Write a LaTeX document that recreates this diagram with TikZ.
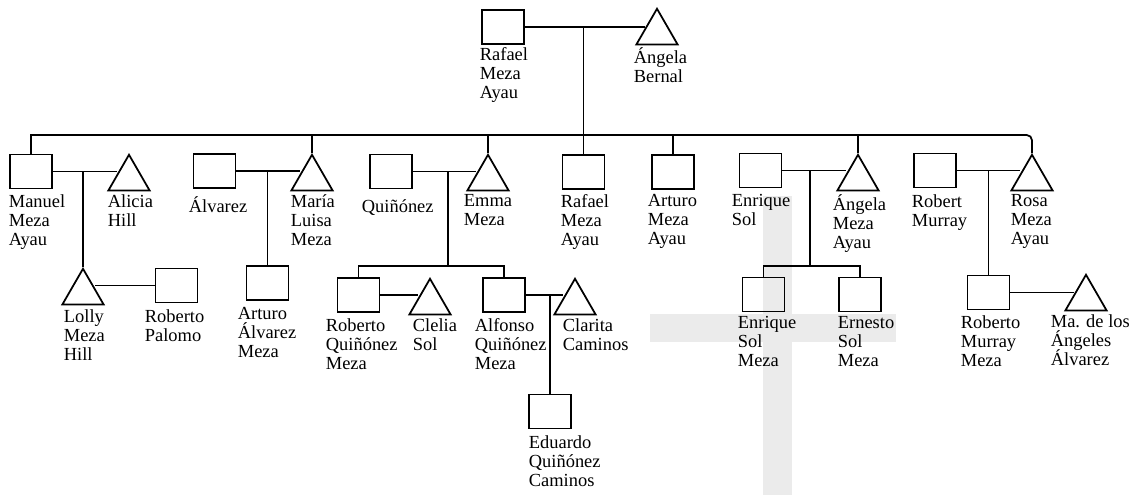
\documentclass[tikz,border=0pt]{standalone}
\usepackage{fontspec}
\setmainfont{Liberation Serif}
\usetikzlibrary{shapes.geometric}
\setlength{\lineskiplimit}{-10pt}
\tikzset{
  male/.style={draw, rectangle, minimum width=0.84cm, minimum height=0.68cm, inner sep=0pt},
  female/.style={draw, regular polygon, regular polygon sides=3, minimum size=0.95cm, inner sep=0pt, anchor=north},
  lbl/.style={anchor=north west, yshift=11.5pt, align=left, inner sep=0pt,
    font=\fontsize{10.5}{10.8}\selectfont, execute at begin node={\rule{0pt}{10pt}}},
}
\begin{document}
\begin{tikzpicture}[x=0.02cm, y=-0.02cm, line width=1pt]
      \useasboundingbox (0,0) rectangle (1144,495);
      \fill[black!8] (763,196) rectangle (792,495);
      \fill[black!8] (650,314) rectangle (896,342);
      \node[male] (rafael0) at (503,27) {};
      \node[female] (angela0) at (657,7) {};
      \node[male] (manuel) at (31,171.5) {};
      \node[female] (alicia) at (129,153) {};
      \node[male] (alvarez) at (214.5,171) {};
      \node[female] (maria) at (312,153) {};
      \node[male] (quinonez) at (391,171.5) {};
      \node[female] (emma) at (488,153) {};
      \node[male] (rafael1) at (583.5,172) {};
      \node[male] (arturo) at (673,172) {};
      \node[male] (enrique) at (760.5,170.5) {};
      \node[female] (angela1) at (858,153) {};
      \node[male] (murray) at (935,170.5) {};
      \node[female] (rosa) at (1032,153) {};
      \node[female] (lolly) at (83,267) {};
      \node[male] (palomo) at (176.5,285.5) {};
      \node[male] (arturoA) at (267.5,283) {};
      \node[male] (robQ) at (358.5,295) {};
      \node[female] (clelia) at (430,277) {};
      \node[male] (alfonso) at (504,295) {};
      \node[female] (clarita) at (575,277) {};
      \node[male] (eduardo) at (550,411.5) {};
      \node[male] (enriqueS) at (763.5,294.5) {};
      \node[male] (ernesto) at (860,294.5) {};
      \node[male] (robM) at (988.5,292.5) {};
      \node[female] (angeles) at (1086,273) {};
      \coordinate (sib) at (583.5,135);
      \coordinate (qbar) at (448,266);
      \coordinate (sbar) at (810,266);
      \begin{scope}
        \draw (rafael0.east) -- (rafael0.east -| angela0.155);
        \draw (rafael1.north |- rafael0.east) -- (rafael1.north);
        \draw (manuel.north) |- (sib);
        \draw[rounded corners=3pt] (sib) -| (rosa.north);
        \draw (maria.north) -- (maria.north |- sib);
        \draw (emma.north) -- (emma.north |- sib);
        \draw (arturo.north) -- (arturo.north |- sib);
        \draw (angela1.north) -- (angela1.north |- sib);
        \draw (manuel.east) -- (manuel.east -| alicia.155);
        \draw (lolly.north |- manuel.east) -- (lolly.north);
        \draw (palomo.west) -- (palomo.west -| lolly.25);
        \draw (alvarez.east) -- (alvarez.east -| maria.155);
        \draw (arturoA.north |- alvarez.east) -- (arturoA.north);
        \draw (quinonez.east) -- (quinonez.east -| emma.155);
        \draw (qbar |- quinonez.east) -- (qbar);
        \draw (robQ.north) |- (qbar) -| (alfonso.north);
        \draw (robQ.east) -- (robQ.east -| clelia.155);
        \draw (alfonso.east) -- (alfonso.east -| clarita.155);
        \draw (eduardo.north |- alfonso.east) -- (eduardo.north);
        \draw (enrique.east) -- (enrique.east -| angela1.155);
        \draw (sbar |- enrique.east) -- (sbar);
        \draw (enriqueS.north) |- (sbar) -| (ernesto.north);
        \draw (murray.east) -- (murray.east -| rosa.155);
        \draw (robM.north |- murray.east) -- (robM.north);
        \draw (robM.east) -- (robM.east -| angeles.155);
      \end{scope}
      \node[lbl] (t-rafael0) at (479,67) {Rafael\\Meza\\Ayau};
      \node[lbl] (t-angela0) at (633,67) {Ángela\\Bernal};
      \node[lbl] (t-manuel) at (8,214) {Manuel\\Meza\\Ayau};
      \node[lbl] (t-alicia) at (107,214) {Alicia\\Hill};
      \node[lbl] (t-alvarez) at (188,214) {Álvarez};
      \node[lbl] (t-maria) at (290,214) {María\\Luisa\\Meza};
      \node[lbl] (t-quinonez) at (361,214) {Quiñónez};
      \node[lbl] (t-emma) at (463,214) {Emma\\Meza};
      \node[lbl] (t-rafael1) at (560,214) {Rafael\\Meza\\Ayau};
      \node[lbl] (t-arturo) at (647,214) {Arturo\\Meza\\Ayau};
      \node[lbl] (t-enrique) at (731,214) {Enrique\\Sol};
      \node[lbl] (t-angela1) at (832,214) {Ángela\\Meza\\Ayau};
      \node[lbl] (t-murray) at (911,214) {Robert\\Murray};
      \node[lbl] (t-rosa) at (1010,214) {Rosa\\Meza\\Ayau};
      \node[lbl] (t-lolly) at (63,329) {Lolly\\Meza\\Hill};
      \node[lbl] (t-palomo) at (144,329) {Roberto\\Palomo};
      \node[lbl] (t-arturoA) at (237,327) {Arturo\\Álvarez\\Meza};
      \node[lbl] (t-robQ) at (325,338) {Roberto\\Quiñónez\\Meza};
      \node[lbl] (t-clelia) at (412,338) {Clelia\\Sol};
      \node[lbl] (t-alfonso) at (474,338) {Alfonso\\Quiñónez\\Meza};
      \node[lbl] (t-clarita) at (562,338) {Clarita\\Caminos};
      \node[lbl] (t-eduardo) at (528,455) {Eduardo\\Quiñónez\\Caminos};
      \node[lbl] (t-enriqueS) at (737,336) {Enrique\\Sol\\Meza};
      \node[lbl] (t-ernesto) at (837,336) {Ernesto\\Sol\\Meza};
      \node[lbl] (t-robM) at (960,335) {Roberto\\Murray\\Meza};
      \node[lbl] (t-angeles) at (1050,334) {Ma. de los\\Ángeles\\Álvarez};
\end{tikzpicture}
\end{document}
